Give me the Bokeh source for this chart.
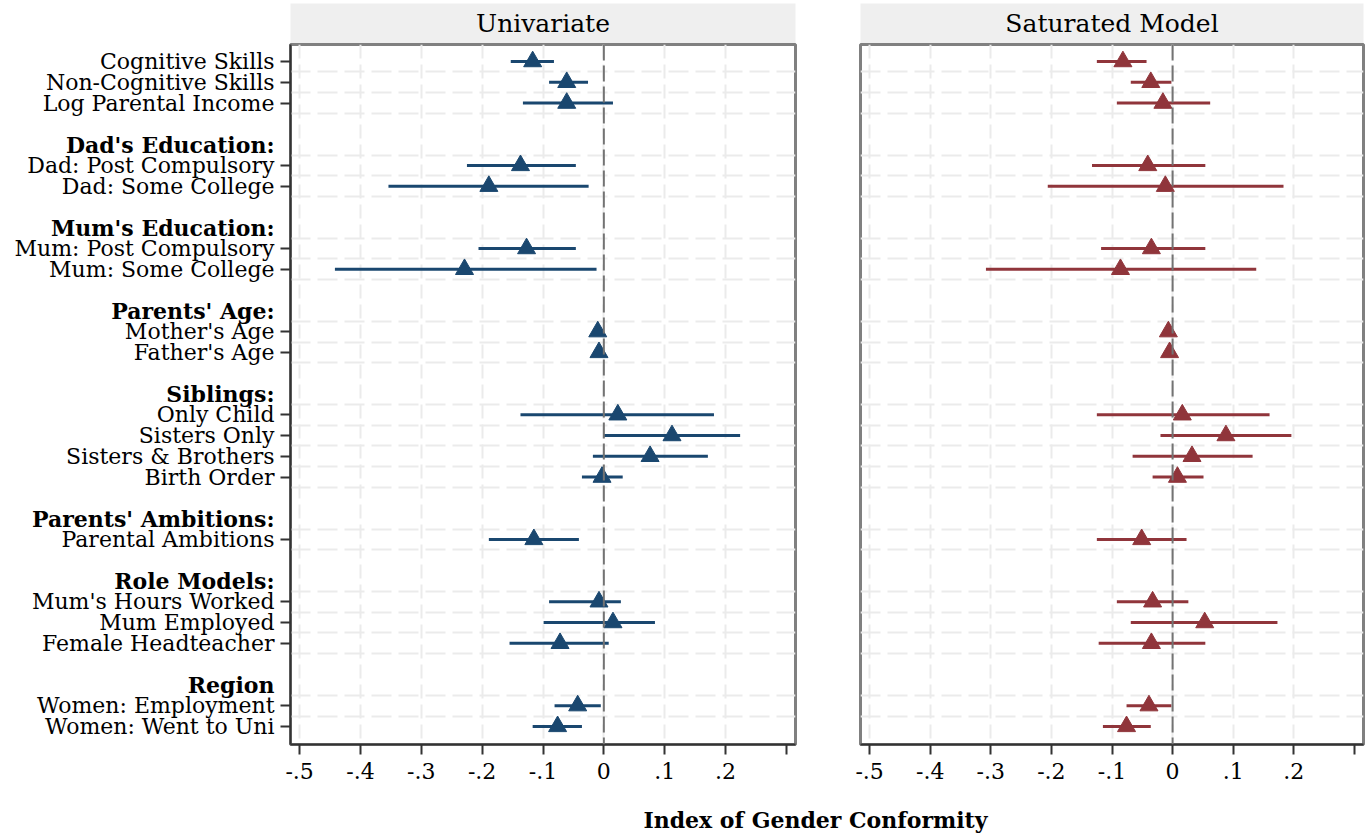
from bokeh.plotting import figure
from bokeh.models import Range1d, FixedTicker, ColumnDataSource, Span
from bokeh.layouts import column, row
from bokeh.embed import file_html
from bokeh.resources import INLINE
from bokeh.core.properties import value

FONT = "DejaVu Serif"

# ---- data ----
group_headers = [None, "Dad's Education:", "Mum's Education:", "Parents' Age:",
                 "Siblings:", "Parents' Ambitions:", "Role Models:", "Region"]
group_items = [
    ["Cognitive Skills", "Non-Cognitive Skills", "Log Parental Income"],
    ["Dad: Post Compulsory", "Dad: Some College"],
    ["Mum: Post Compulsory", "Mum: Some College"],
    ["Mother's Age", "Father's Age"],
    ["Only Child", "Sisters Only", "Sisters & Brothers", "Birth Order"],
    ["Parental Ambitions"],
    ["Mum's Hours Worked", "Mum Employed", "Female Headteacher"],
    ["Women: Employment", "Women: Went to Uni"],
]

uni_est = [-0.117, -0.061, -0.061, -0.137, -0.189, -0.127, -0.229, -0.010, -0.008,
           0.023, 0.112, 0.076, -0.003, -0.115, -0.008, 0.015, -0.072, -0.043, -0.076]
uni_lo = [-0.153, -0.090, -0.133, -0.225, -0.354, -0.206, -0.442, -0.012, -0.010,
          -0.137, 0.000, -0.018, -0.036, -0.189, -0.090, -0.099, -0.155, -0.081, -0.117]
uni_hi = [-0.082, -0.026, 0.015, -0.046, -0.025, -0.046, -0.012, -0.008, -0.006,
          0.181, 0.224, 0.171, 0.031, -0.041, 0.028, 0.084, 0.008, -0.005, -0.036]

sat_est = [-0.082, -0.036, -0.016, -0.041, -0.012, -0.035, -0.086, -0.007, -0.005,
           0.016, 0.088, 0.032, 0.008, -0.051, -0.033, 0.053, -0.035, -0.039, -0.076]
sat_lo = [-0.125, -0.069, -0.092, -0.133, -0.206, -0.118, -0.308, -0.009, -0.007,
          -0.125, -0.020, -0.066, -0.033, -0.125, -0.092, -0.069, -0.122, -0.076, -0.115]
sat_hi = [-0.043, -0.002, 0.062, 0.054, 0.183, 0.054, 0.138, -0.005, -0.003,
          0.160, 0.196, 0.132, 0.051, 0.023, 0.026, 0.173, 0.054, -0.002, -0.036]

x_ticks = [-0.5, -0.4, -0.3, -0.2, -0.1, 0, 0.1, 0.2, 0.3]
x_tick_labels = ["-.5", "-.4", "-.3", "-.2", "-.1", "0", ".1", ".2", ""]

panel_titles = ["Univariate", "Saturated Model"]
x_title = "Index of Gender Conformity"

BLUE = "#1a476f"
RED = "#90353b"

# ---- row positions (row index along y) ----
row_labels, row_pos, head_labels, head_pos, grid_pos = [], [], [], [], []
k = 0
for gi, (h, items) in enumerate(zip(group_headers, group_items)):
    if gi > 0:
        k += 1  # blank slot
    if h is not None:
        k += 1
        head_labels.append(h)
        head_pos.append(k)
        grid_pos.append(k + 0.5)
    for it in items:
        k += 1
        row_labels.append(it)
        row_pos.append(k)
        grid_pos.append(k + 0.5)
last = k
grid_pos = [g for g in grid_pos if g < last]

XR = (-0.515, 0.315)
STRIP_H = 43
TOP_B, BOT_B, FRAME_H = 1, 46, 700
PANEL_H = TOP_B + FRAME_H + BOT_B

LW = 278                      # label column width
W1, BL1, BR1 = 522, 12, 5     # left panel
W2, BL2, BR2 = 567, 60, 4     # right panel

y_range = Range1d(last + 0.87, 0.18)


def style_axis(ax):
    ax.minor_tick_line_color = None
    ax.major_tick_in = 0
    ax.major_tick_out = 10
    ax.major_tick_line_width = 2
    ax.major_tick_line_color = "#333333"
    ax.axis_line_width = 2
    ax.axis_line_color = "#333333"
    ax.major_label_text_font = FONT
    ax.major_label_text_font_size = "22px"
    ax.major_label_text_color = "black"


def make_panel(est, lo, hi, color, width, bl, br, show_y):
    p = figure(width=width, height=PANEL_H, x_range=Range1d(*XR), y_range=y_range,
               output_backend="svg", toolbar_location=None,
               min_border_left=bl, min_border_right=br, min_border_top=TOP_B,
               min_border_bottom=BOT_B, y_axis_location="left" if show_y else None)
    p.background_fill_color = "white"
    p.border_fill_color = "white"
    p.outline_line_color = "#808080"
    p.outline_line_width = 3

    p.xgrid.ticker = FixedTicker(ticks=x_ticks[:-1])
    p.xgrid.grid_line_color = "#ebebeb"
    p.xgrid.grid_line_width = 2
    p.xgrid.grid_line_dash = "14 6"
    p.ygrid.ticker = FixedTicker(ticks=grid_pos)
    p.ygrid.grid_line_color = "#ebebeb"
    p.ygrid.grid_line_width = 2
    p.ygrid.grid_line_dash = "20 7"

    xa = p.xaxis[0]
    xa.ticker = FixedTicker(ticks=x_ticks)
    xa.major_label_overrides = {t: l for t, l in zip(x_ticks, x_tick_labels)}
    style_axis(xa)
    xa.major_label_standoff = 8

    if show_y:
        ya = p.yaxis[0]
        ya.ticker = FixedTicker(ticks=row_pos)
        ya.major_label_overrides = {t: "" for t in row_pos}
        style_axis(ya)
        ya.major_label_standoff = 0
        ya.axis_label_standoff = 0

    p.add_layout(Span(location=0, dimension="height", line_color="#737373",
                      line_width=2, line_dash="16 5"))

    src = ColumnDataSource(dict(y=row_pos, est=est, lo=lo, hi=hi))
    p.segment(x0="lo", y0="y", x1="hi", y1="y", source=src, line_color=color, line_width=3)
    p.scatter(x="est", y="y", source=src, marker="triangle", size=18,
              fill_color=color, line_color=color)
    return p


def make_strip(text, width, bl, br):
    s = figure(width=width, height=STRIP_H, x_range=Range1d(0, 1), y_range=Range1d(0, 1),
               output_backend="svg", toolbar_location=None,
               min_border_left=bl, min_border_right=br, min_border_top=3, min_border_bottom=0,
               x_axis_location=None, y_axis_location=None)
    s.grid.visible = False
    s.outline_line_color = None
    s.background_fill_color = "#efefef"
    s.border_fill_color = "white"
    s.text(x=[0.5], y=[0.5], text=[text], text_align="center", text_baseline="middle",
           text_font=value(FONT), text_font_size="25px", text_color="black")
    return s


# label column (row names and bold group headers)
lab = figure(width=LW, height=STRIP_H + PANEL_H, x_range=Range1d(0, LW), y_range=y_range,
             output_backend="svg", toolbar_location=None,
             min_border_left=0, min_border_right=0, min_border_top=STRIP_H + TOP_B,
             min_border_bottom=BOT_B, x_axis_location=None, y_axis_location=None)
lab.grid.visible = False
lab.outline_line_color = None
lab.text(x=[LW - 4] * len(row_labels), y=row_pos, text=row_labels, text_align="right",
         text_baseline="middle", text_font=value(FONT), text_font_size="22px",
         text_color="black")
lab.text(x=[LW - 4] * len(head_labels), y=head_pos, text=head_labels, text_align="right",
         text_baseline="middle", text_font=value(FONT), text_font_size="22px",
         text_font_style="bold", text_color="black")

p1 = make_panel(uni_est, uni_lo, uni_hi, BLUE, W1, BL1, BR1, True)
p2 = make_panel(sat_est, sat_lo, sat_hi, RED, W2, BL2, BR2, False)
s1 = make_strip(panel_titles[0], W1, BL1, BR1)
s2 = make_strip(panel_titles[1], W2, BL2, BR2)

WB, HB = LW + W1 + W2, 46
b = figure(width=WB, height=HB, x_range=Range1d(0, WB), y_range=Range1d(0, HB),
           output_backend="svg", toolbar_location=None,
           min_border_left=0, min_border_right=0, min_border_top=0, min_border_bottom=0,
           x_axis_location=None, y_axis_location=None)
b.grid.visible = False
b.outline_line_color = None
b.text(x=[815], y=[HB - 29], text=[x_title], text_align="center", text_baseline="middle",
       text_font=value(FONT), text_font_size="22px", text_font_style="bold",
       text_color="black")

layout = column(row(lab, column(s1, p1), column(s2, p2)), b)

open("out.html", "w").write(file_html(layout, INLINE))
